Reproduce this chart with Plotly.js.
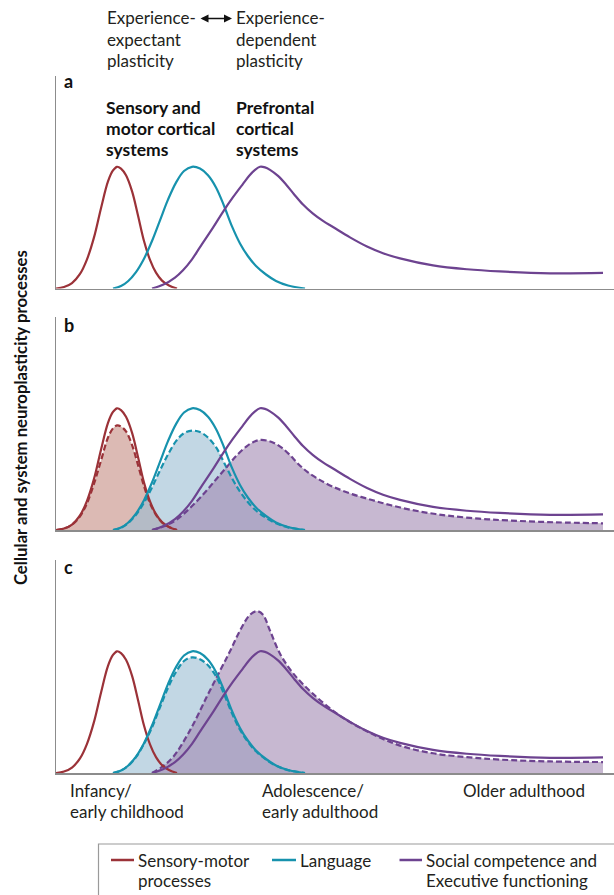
<!DOCTYPE html>
<html><head><meta charset="utf-8">
<script src="https://cdn.plot.ly/plotly-3.0.1.min.js"></script>
<style>html,body{margin:0;padding:0;background:#fff}#chart{width:614px;height:895px}</style>
</head><body><div id="chart"></div>
<script>
// ---- Data (age in arbitrary units along the lifespan axis; plasticity relative to peak = 1) ----
const sensoryX      = [0, 8, 16, 24, 31, 38, 45, 52, 57, 61, 65, 70, 76, 82, 88, 94, 100, 106, 113, 121];
const sensorySolid  = [0, 0.012, 0.045, 0.12, 0.24, 0.42, 0.66, 0.88, 0.97, 1.0, 0.985, 0.93, 0.8, 0.6, 0.39, 0.235, 0.13, 0.065, 0.025, 0];
const sensoryDashB  = [0, 0.012, 0.043, 0.112, 0.22, 0.38, 0.57, 0.76, 0.835, 0.86, 0.85, 0.81, 0.70, 0.535, 0.36, 0.22, 0.125, 0.063, 0.024, 0];

const languageX     = [57, 65, 72, 80, 88, 96, 104, 112, 120, 128, 136, 144, 152, 160, 168, 176, 184, 192, 200, 210, 220, 232, 249];
const languageSolid = [0, 0.02, 0.06, 0.135, 0.245, 0.39, 0.56, 0.73, 0.87, 0.965, 1.0, 0.985, 0.93, 0.83, 0.68, 0.51, 0.37, 0.265, 0.185, 0.115, 0.062, 0.025, 0];
const languageDashB = [0, 0.018, 0.055, 0.125, 0.225, 0.35, 0.49, 0.62, 0.73, 0.795, 0.816, 0.805, 0.76, 0.68, 0.555, 0.425, 0.315, 0.228, 0.16, 0.10, 0.055, 0.022, 0];
const languageDashC = [0, 0.02, 0.058, 0.13, 0.24, 0.375, 0.54, 0.70, 0.83, 0.92, 0.95, 0.935, 0.885, 0.795, 0.65, 0.49, 0.355, 0.255, 0.178, 0.11, 0.06, 0.024, 0];

const socialX       = [96, 107, 119, 127, 136, 144, 157, 167, 177, 187, 193, 199, 204, 209, 214, 222, 230, 238, 247, 257, 267, 277, 294, 311, 327, 344, 377, 411, 444, 494, 547];
const socialSolid   = [0, 0.03, 0.09, 0.15, 0.24, 0.34, 0.5, 0.63, 0.75, 0.86, 0.925, 0.975, 1.0, 0.995, 0.975, 0.925, 0.855, 0.775, 0.69, 0.615, 0.555, 0.505, 0.42, 0.345, 0.29, 0.248, 0.19, 0.158, 0.14, 0.125, 0.128];

const socialDashBX  = [96, 108, 120, 134, 148, 160, 171, 181, 191, 198, 204, 211, 218, 226, 234, 242, 251, 262, 277, 296, 316, 335, 355, 374, 394, 423, 453, 500, 547];
const socialDashB   = [0, 0.03, 0.082, 0.18, 0.30, 0.415, 0.52, 0.615, 0.69, 0.725, 0.74, 0.735, 0.715, 0.675, 0.615, 0.545, 0.48, 0.42, 0.355, 0.295, 0.246, 0.203, 0.166, 0.138, 0.116, 0.093, 0.078, 0.063, 0.055];

const socialDashCX  = [96, 106, 117, 134, 151, 164, 174, 184, 194, 201, 207, 214, 224, 237, 257, 284, 314, 344, 377, 411, 444, 494, 547];
const socialDashC   = [0, 0.05, 0.13, 0.35, 0.63, 0.84, 1.0, 1.17, 1.30, 1.33, 1.30, 1.17, 0.98, 0.82, 0.65, 0.47, 0.33, 0.225, 0.162, 0.13, 0.11, 0.095, 0.09];

const panelLabels   = ['a', 'b', 'c'];
const stageLabels   = [['Infancy/', 'early childhood'], ['Adolescence/', 'early adulthood'], ['Older adulthood']];
const legendLabels  = [['Sensory-motor', 'processes'], ['Language'], ['Social competence and', 'Executive functioning']];
const yTitle        = 'Cellular and system neuroplasticity processes';

// ---- Styles ----
const RED = '#9b3238', TEAL = '#1792ad', PURPLE = '#6d4390';
const FILL_RED = 'rgba(197,140,130,0.6)', FILL_TEAL = 'rgba(153,188,210,0.6)', FILL_PURPLE = 'rgba(162,137,178,0.6)';
const W = 614, H = 895, L = 56;
const px = x => (x - L) / (W - L);
const py = y => 1 - y / H;
const FONT = 'Lato, "Open Sans", sans-serif';
const TXT = '#231f20';

const axes = ['', '2', '3'];
const traces = [];
function line(xs, ys, k, color, dash) {
  traces.push({x: xs, y: ys, xaxis: 'x' + axes[k], yaxis: 'y' + axes[k], mode: 'lines',
    line: {color: color, width: 2.2, shape: 'spline', smoothing: 1, dash: dash || 'solid'},
    hoverinfo: 'skip'});
}
function fill(xs, ys, k, color) {
  traces.push({x: xs, y: ys, xaxis: 'x' + axes[k], yaxis: 'y' + axes[k], mode: 'lines',
    fill: 'tozeroy', fillcolor: color, line: {width: 0, shape: 'spline', smoothing: 1, color: color},
    hoverinfo: 'skip'});
}
const DASH = '6px,3px';
// panel a
line(sensoryX, sensorySolid, 0, RED);
line(languageX, languageSolid, 0, TEAL);
line(socialX, socialSolid, 0, PURPLE);
// panel b
fill(sensoryX, sensoryDashB, 1, FILL_RED);
fill(languageX, languageDashB, 1, FILL_TEAL);
fill(socialDashBX, socialDashB, 1, FILL_PURPLE);
line(sensoryX, sensoryDashB, 1, RED, DASH);
line(languageX, languageDashB, 1, TEAL, DASH);
line(socialDashBX, socialDashB, 1, PURPLE, DASH);
line(sensoryX, sensorySolid, 1, RED);
line(languageX, languageSolid, 1, TEAL);
line(socialX, socialSolid, 1, PURPLE);
// panel c
fill(languageX, languageDashC, 2, FILL_TEAL);
fill(socialDashCX, socialDashC, 2, FILL_PURPLE);
line(languageX, languageDashC, 2, TEAL, DASH);
line(socialDashCX, socialDashC, 2, PURPLE, DASH);
line(sensoryX, sensorySolid, 2, RED);
line(languageX, languageSolid, 2, TEAL);
line(socialX, socialSolid, 2, PURPLE);

const panels = [[75.5, 288.5], [317, 530], [560, 773]];
const layout = {width: W, height: H, margin: {l: L, r: 0, t: 0, b: 0}, showlegend: false,
  paper_bgcolor: '#fff', plot_bgcolor: 'rgba(0,0,0,0)', font: {family: FONT, color: TXT},
  annotations: [], shapes: []};
panels.forEach((p, k) => {
  const xa = {range: [0, 558], domain: [0, 1], showline: true, linecolor: '#8c8c8c', linewidth: 1.5,
    showgrid: false, zeroline: false, showticklabels: false, ticks: '', anchor: 'y' + axes[k], fixedrange: true};
  const ya = {range: [0, 1.75], domain: [py(p[1]), py(p[0])], showline: true, linecolor: '#8c8c8c', linewidth: 1.2,
    showgrid: false, zeroline: false, showticklabels: false, ticks: '', anchor: 'x' + axes[k], fixedrange: true};
  layout['xaxis' + axes[k]] = xa;
  layout['yaxis' + axes[k]] = ya;
});

function txt(t, x, y, opt) {
  opt = opt || {};
  layout.annotations.push({text: t, xref: 'paper', yref: 'paper', x: px(x), y: py(y),
    xanchor: 'left', yanchor: 'middle', showarrow: false, borderpad: 0,
    font: {family: FONT, size: opt.size || 17, color: opt.color || TXT, weight: opt.weight || 'normal'}});
}
// top header
['Experience-', 'expectant', 'plasticity'].forEach((t, i) => txt(t, 106, 18 + i * 21));
['Experience-', 'dependent', 'plasticity'].forEach((t, i) => txt(t, 235, 18 + i * 21));
layout.annotations.push({text: '', xref: 'paper', yref: 'paper', axref: 'paper', ayref: 'paper',
  x: px(232), y: py(18.5), ax: px(199), ay: py(18.5), showarrow: true, arrowhead: 2, arrowside: 'end+start',
  arrowsize: 1, arrowwidth: 1.6, arrowcolor: '#111'});
['Sensory and', 'motor cortical', 'systems'].forEach((t, i) => txt(t, 105, 108 + i * 20.5, {weight: 'bold', color: '#111', size: 17.5}));
['Prefrontal', 'cortical', 'systems'].forEach((t, i) => txt(t, 235, 108 + i * 20.5, {weight: 'bold', color: '#111', size: 17.5}));
// panel letters
[81, 325, 567].forEach((y, i) => txt(panelLabels[i], 63, y, {weight: 'bold', color: '#111', size: 18}));
// y title
layout.annotations.push({text: yTitle, textangle: -90, xref: 'paper', yref: 'paper', x: px(21), y: py(418),
  xanchor: 'center', yanchor: 'middle', showarrow: false, font: {family: FONT, size: 16.7, weight: 'bold', color: '#111'}});
// stage labels
[69, 261, 462].forEach((x, i) => stageLabels[i].forEach((t, j) => txt(t, x, 790 + j * 21)));
// legend box
layout.shapes.push({type: 'rect', xref: 'paper', yref: 'paper', x0: px(98.5), x1: px(630), y0: py(844), y1: py(905),
  line: {color: '#9a9a9a', width: 1.2}, fillcolor: 'rgba(0,0,0,0)'});
const legX = [[111, 134, 136.5], [272, 296, 298.5], [399.5, 422, 425]];
const legC = [RED, TEAL, PURPLE];
legX.forEach((g, i) => {
  layout.shapes.push({type: 'line', xref: 'paper', yref: 'paper', x0: px(g[0]), x1: px(g[1]), y0: py(860), y1: py(860),
    line: {color: legC[i], width: 2.5}});
  legendLabels[i].forEach((t, j) => txt(t, g[2], 860 + j * 20.5));
});

Plotly.newPlot('chart', traces, layout, {staticPlot: true, displayModeBar: false});
</script></body></html>
